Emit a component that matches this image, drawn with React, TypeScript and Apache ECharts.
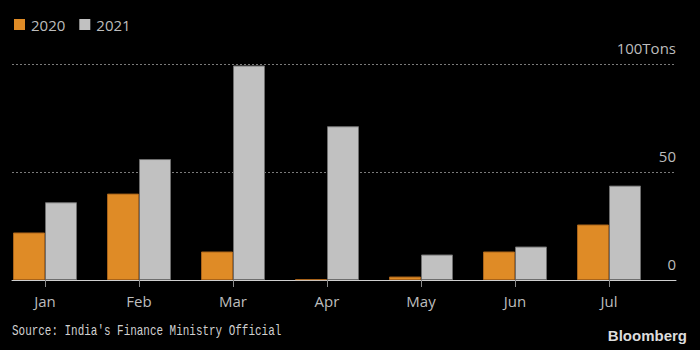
import React, { useEffect, useRef } from "react";
import * as echarts from "echarts";

const months = ["Jan", "Feb", "Mar", "Apr", "May", "Jun", "Jul"];
const series2020 = [22, 40, 13.2, 0.4, 1.6, 13.2, 25.7];
const series2021 = [36, 56, 99.3, 71.2, 11.8, 15.5, 43.7];
const yTicks = [0, 50, 100];
const seriesNames = ["2020", "2021"];
const sourceText = "Source: India's Finance Ministry Official";
const brandText = "Bloomberg";

const ORANGE = "#df8b26";
const GRAY = "#c1c1c1";

export default function App() {
  const ref = useRef<HTMLDivElement>(null);
  useEffect(() => {
    if (!ref.current) return;
    const chart = echarts.init(ref.current, null, { renderer: "svg" });
    const font = "'Open Sans', 'Noto Sans', sans-serif";
    chart.setOption({
      animation: false,
      backgroundColor: "#000",
      legend: {
        left: 14,
        top: 17,
        padding: 0,
        icon: "rect",
        itemWidth: 11,
        itemHeight: 11,
        itemGap: 14,
        data: seriesNames,
        itemStyle: { borderWidth: 0 },
        textStyle: { color: "#bdbdbd", fontSize: 15, fontFamily: font, padding: [0, 0, 0, 1] },
      },
      grid: [
        { left: -2, width: 658, top: 64, height: 216, outerBoundsMode: "none", containLabel: false },
        { left: 12, right: 24, top: 64, height: 216, outerBoundsMode: "none", containLabel: false },
      ],
      xAxis: [
        {
          type: "category",
          gridIndex: 0,
          data: months,
          axisLine: { show: false },
          axisTick: { show: true, alignWithLabel: true, length: 7, lineStyle: { color: "#8a8a8a" } },
          axisLabel: { color: "#bdbdbd", fontSize: 15, fontFamily: font, margin: 13 },
          splitLine: { show: false },
        },
        {
          type: "value",
          gridIndex: 1,
          min: 0,
          max: 1,
          axisLine: { show: true, onZero: false, lineStyle: { color: "#cfcfcf", width: 1 } },
          axisTick: { show: false },
          axisLabel: { show: false },
          splitLine: { show: false },
        },
      ],
      yAxis: [
        { type: "value", gridIndex: 0, min: 0, max: 100, show: false },
        {
          type: "value",
          gridIndex: 1,
          position: "right",
          min: yTicks[0],
          max: yTicks[yTicks.length - 1],
          interval: yTicks[1] - yTicks[0],
          axisLine: { show: false },
          axisTick: { show: false },
          axisLabel: {
            inside: true,
            margin: 0,
            align: "right",
            verticalAlign: "bottom",
            lineHeight: 15,
            padding: [0, 0, 9, 0],
            color: "#bdbdbd",
            fontSize: 15,
            fontFamily: font,
            formatter: (v: number) => (v === yTicks[yTicks.length - 1] ? `${v}Tons` : `${v}`),
          },
          splitLine: { show: true, lineStyle: { color: "#7a7a7a", type: [2, 2], width: 1 } },
        },
      ],
      series: [
        {
          name: seriesNames[0],
          type: "bar",
          xAxisIndex: 0,
          yAxisIndex: 0,
          data: series2020,
          barWidth: 32,
          barGap: "0%",
          itemStyle: { color: ORANGE, borderColor: "#a8631a", borderWidth: 1 },
        },
        {
          name: seriesNames[1],
          type: "bar",
          xAxisIndex: 0,
          yAxisIndex: 0,
          data: series2021,
          barWidth: 32,
          barGap: "0%",
          itemStyle: { color: GRAY, borderColor: "#6e6e6e", borderWidth: 1 },
        },
      ],
      graphic: [
        {
          type: "text",
          x: 12,
          y: 331,
          scaleX: 0.73,
          style: {
            text: sourceText,
            font: "15px 'Liberation Mono', 'DejaVu Sans Mono', monospace",
            fill: "#d0d0d0",
            textAlign: "left",
            textVerticalAlign: "middle",
          },
        },
        {
          type: "text",
          right: 13,
          top: 328,
          style: {
            text: brandText,
            font: "bold 15px 'Liberation Sans', Arial, sans-serif",
            fill: "#dcdcdc",
          },
        },
      ],
    });
    return () => chart.dispose();
  }, []);
  return (
    <div
      ref={ref}
      style={{ position: "fixed", left: 0, top: 0, width: 700, height: 350, background: "#000" }}
    />
  );
}
